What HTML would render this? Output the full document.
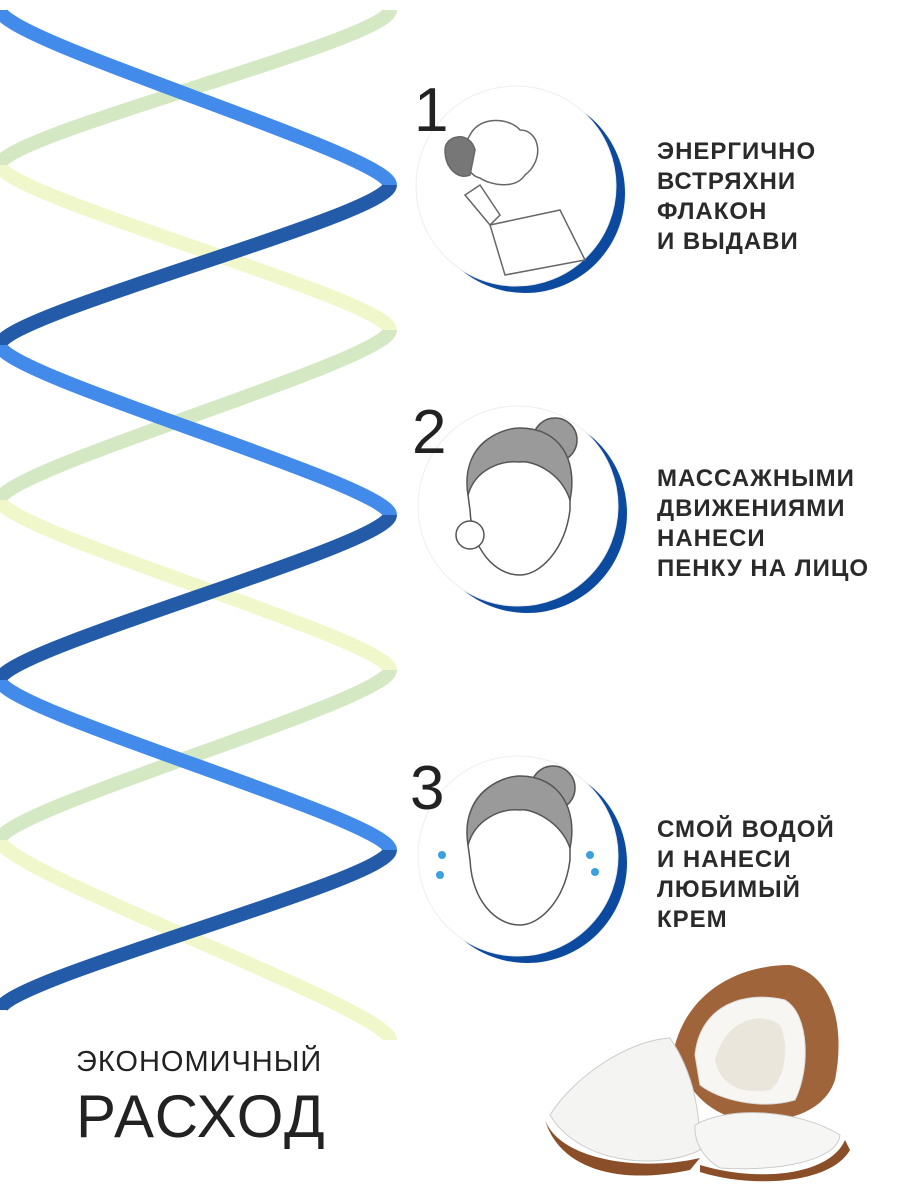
<!DOCTYPE html>
<html><head><meta charset="utf-8"><style>
html,body{margin:0;padding:0;background:#fff;}
body{width:900px;height:1200px;position:relative;overflow:hidden;font-family:"Liberation Sans",sans-serif;}
.t{position:absolute;left:657px;font-size:24px;font-weight:bold;color:#2a2a2a;line-height:30px;letter-spacing:1px;}
.n{position:absolute;font-size:62px;color:#222;line-height:62px;}
</style></head><body>
<svg width="900" height="1200" style="position:absolute;left:0;top:0">
<g fill="none" stroke-width="14" stroke-linecap="butt" opacity="0.9">
<path d="M390 10 C390 40 0 135 0 165" stroke="#cfe6bd"/>
<path d="M0 165 C0 195 390 300 390 330" stroke="#eef7c6"/>
<path d="M390 330 C390 360 0 470 0 500" stroke="#cfe6bd"/>
<path d="M0 500 C0 530 390 640 390 670" stroke="#eef7c6"/>
<path d="M390 670 C390 700 0 810 0 840" stroke="#cfe6bd"/>
<path d="M0 840 C0 870 390 1010 390 1040" stroke="#eef7c6"/>
<path d="M0 10 C0 40 390 155 390 185" stroke="#2f7fe8"/>
<path d="M390 185 C390 215 0 315 0 345" stroke="#0c4aa0"/>
<path d="M0 345 C0 375 390 485 390 515" stroke="#2f7fe8"/>
<path d="M390 515 C390 545 0 650 0 680" stroke="#0c4aa0"/>
<path d="M0 680 C0 710 390 820 390 850" stroke="#2f7fe8"/>
<path d="M390 850 C390 880 0 980 0 1010" stroke="#0c4aa0"/>
</g>
<g>
<circle cx="525" cy="193" r="100" fill="#0c4aa0"/>
<circle cx="516" cy="186" r="100" fill="#fff" stroke="#eee"/>
<circle cx="527" cy="513" r="100" fill="#0c4aa0"/>
<circle cx="518" cy="506" r="100" fill="#fff" stroke="#eee"/>
<circle cx="527" cy="863" r="100" fill="#0c4aa0"/>
<circle cx="518" cy="856" r="100" fill="#fff" stroke="#eee"/>
</g>
<g stroke="#666" stroke-width="1.5" fill="none">
<path d="M470 135 C480 115 510 118 520 130 C540 130 545 160 525 175 C515 190 490 185 480 178 C465 175 460 150 470 135Z" fill="#fff"/>
<path d="M445 150 C445 135 470 130 475 150 L470 175 C460 180 445 170 445 150Z" fill="#777"/>
<path d="M465 195 L480 185 L500 215 L490 225 Z"/>
<path d="M490 225 L560 210 L585 260 L505 275 Z"/>
</g>
<g stroke="#555" stroke-width="1.5">
<circle cx="555" cy="440" r="22" fill="#9a9a9a"/>
<path d="M468 495 C462 440 500 430 520 430 C555 430 575 455 570 500 L570 510 C565 550 540 575 520 575 C495 575 472 550 470 510 Z" fill="#fff"/>
<path d="M468 495 C460 445 500 428 520 428 C560 428 578 460 570 500 C560 470 530 460 520 462 C500 460 475 470 468 495Z" fill="#9a9a9a"/>
<circle cx="470" cy="535" r="14" fill="#fff"/>
<circle cx="553" cy="788" r="22" fill="#9a9a9a"/>
<path d="M468 845 C462 790 500 778 520 778 C555 778 575 805 570 848 L570 860 C565 900 540 925 520 925 C495 925 472 900 470 860 Z" fill="#fff"/>
<path d="M468 845 C460 795 500 776 520 776 C560 776 578 810 570 848 C560 820 530 808 520 810 C500 808 475 820 468 845Z" fill="#9a9a9a"/>
</g>
<g fill="#3aa0e0"><circle cx="442" cy="855" r="4"/><circle cx="590" cy="855" r="4"/><circle cx="440" cy="875" r="4"/><circle cx="595" cy="872" r="4"/></g>
<g>
<path d="M675 1045 C690 990 740 965 790 965 C835 975 845 1030 835 1080 C825 1110 790 1125 740 1120 C700 1110 680 1080 675 1045Z" fill="#a0643a"/>
<path d="M695 1055 C700 1005 745 990 785 1000 C810 1015 810 1070 795 1100 C760 1110 720 1100 700 1085Z" fill="#f7f6f2" stroke="#ddd"/>
<path d="M715 1060 C725 1020 760 1010 780 1025 C790 1045 785 1080 770 1090 C740 1095 720 1085 715 1060Z" fill="#ebe6dc"/>
<path d="M550 1115 C575 1075 630 1040 670 1038 C695 1075 700 1115 700 1150 C660 1170 580 1165 550 1115Z" fill="#f4f4f2" stroke="#ccc"/>
<path d="M545 1120 C560 1160 640 1172 700 1158 L690 1170 C620 1185 560 1170 545 1120Z" fill="#8a4f28"/>
<path d="M695 1125 C730 1105 800 1110 840 1135 C838 1160 780 1172 720 1168 C703 1158 694 1142 695 1125Z" fill="#f6f6f4" stroke="#ccc"/>
<path d="M700 1165 C760 1183 830 1175 845 1140 L850 1150 C830 1185 750 1188 700 1172Z" fill="#8a4f28"/>
</g>
</svg>
<div class="n" style="left:414px;top:80px">1</div>
<div class="n" style="left:412px;top:402px">2</div>
<div class="n" style="left:410px;top:758px">3</div>
<div class="t" style="top:137px">ЭНЕРГИЧНО<br>ВСТРЯХНИ<br>ФЛАКОН<br>И ВЫДАВИ</div>
<div class="t" style="top:464px">МАССАЖНЫМИ<br>ДВИЖЕНИЯМИ<br>НАНЕСИ<br>ПЕНКУ НА ЛИЦО</div>
<div class="t" style="top:815px">СМОЙ ВОДОЙ<br>И НАНЕСИ<br>ЛЮБИМЫЙ<br>КРЕМ</div>
<div style="position:absolute;left:76px;top:1046px;font-size:29px;color:#222;letter-spacing:1px">ЭКОНОМИЧНЫЙ</div>
<div style="position:absolute;left:76px;top:1082px;font-size:60px;color:#222;letter-spacing:2px;line-height:70px">РАСХОД</div>
</body></html>
